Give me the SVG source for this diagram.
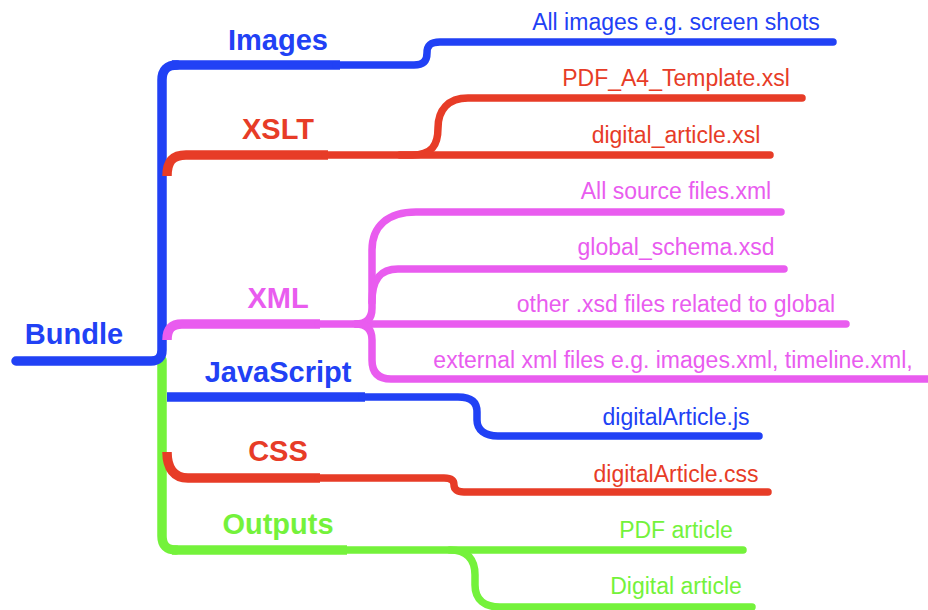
<svg xmlns="http://www.w3.org/2000/svg" width="928" height="610" viewBox="0 0 928 610">
<style>
  .c { fill: none; stroke-linecap: round; stroke-linejoin: round; }
  .thick { stroke-width: 9.5; stroke-linecap: butt; }
  .thin { stroke-width: 7.5; }
  .blue { stroke: #2141F5; }
  .red { stroke: #E73C27; }
  .pink { stroke: #E95CEF; }
  .green { stroke: #74F23B; }
  .lbl { font-family: "Liberation Sans", Arial, Helvetica, sans-serif; font-weight: bold; font-size: 29px; text-anchor: middle; }
  .leaf { font-family: "Liberation Sans", Arial, Helvetica, sans-serif; font-size: 23px; text-anchor: middle; }
  .tb { fill: #2141F5; }
  .tr { fill: #E73C27; }
  .tp { fill: #E95CEF; }
  .tg { fill: #74F23B; }
</style>
<rect width="928" height="610" fill="#ffffff"/>
<g id="connectors">
  <!-- green trunk -->
  <path class="c green" stroke-width="9.5" d="M 162 360 V 536 Q 162 550 176 550"/>
  <!-- Bundle + blue trunk -->
  <path class="c blue" stroke-width="9.5" d="M 16 361 H 151 Q 162 361 162 350 V 80 Q 162 65 177 65"/>
  <!-- Images -->
  <path class="c blue thick" d="M 172 65 H 340"/>
  <path class="c blue thin" d="M 336 65 H 414 C 424 65 427 60 427 53 C 427 46 430 42 440 42 H 833"/>
  <!-- XSLT -->
  <path class="c red thick" d="M 167 176 C 167 162 172 155 186 155 H 328"/>
  <path class="c red thin" d="M 325 155 H 412 C 432 155 438 145 438 128 C 438 110 448 98 468 98 H 802"/>
  <path class="c red thin" d="M 400 155 H 770"/>
  <!-- XML -->
  <path class="c pink thick" d="M 167 340 C 167 330 171 324 182 324 H 320"/>
  <path class="c pink thin" d="M 318 324 H 846"/>
  <path class="c pink thin" d="M 356 324 Q 372 324 372 308 V 250 C 372 226 388 212 416 212 H 781"/>
  <path class="c pink thin" d="M 372 302 C 372 280 380 269 398 269 H 784"/>
  <path class="c pink thin" d="M 356 324 Q 372 324 372 340 V 360 Q 372 379 391 379 H 940"/>
  <!-- JavaScript -->
  <path class="c blue thick" d="M 167 397 H 365"/>
  <path class="c blue thin" d="M 362 397 H 458 C 472 397 477 403 477 412 V 420 C 477 430 485 436 498 436 H 759"/>
  <!-- CSS -->
  <path class="c red thick" d="M 167 452 C 167 468 174 478 188 478 H 320"/>
  <path class="c red thin" d="M 318 478 H 444 C 452 478 454 481 454 485 C 454 489 457 492 464 492 H 768"/>
  <!-- Outputs -->
  <path class="c green thick" d="M 172 550 H 347"/>
  <path class="c green thin" d="M 344 550 H 743"/>
  <path class="c green thin" d="M 450 550 C 468 550 475 560 475 575 V 585 C 475 600 485 607 500 607 H 752"/>
</g>
<g id="node-bundle"><text class="lbl tb" x="74" y="344">Bundle</text></g>
<g id="node-images"><text class="lbl tb" x="278" y="50">Images</text></g>
<g id="node-xslt"><text class="lbl tr" x="278" y="139">XSLT</text></g>
<g id="node-xml"><text class="lbl tp" x="278" y="308">XML</text></g>
<g id="node-javascript"><text class="lbl tb" x="278" y="382">JavaScript</text></g>
<g id="node-css"><text class="lbl tr" x="278" y="461">CSS</text></g>
<g id="node-outputs"><text class="lbl tg" x="278" y="534">Outputs</text></g>
<g id="leaf-all-images"><text class="leaf tb" x="676" y="30">All images e.g. screen shots</text></g>
<g id="leaf-pdf-template"><text class="leaf tr" x="676" y="86">PDF_A4_Template.xsl</text></g>
<g id="leaf-digital-article-xsl"><text class="leaf tr" x="676" y="143">digital_article.xsl</text></g>
<g id="leaf-all-source"><text class="leaf tp" x="676" y="199">All source files.xml</text></g>
<g id="leaf-global-schema"><text class="leaf tp" x="676" y="255">global_schema.xsd</text></g>
<g id="leaf-other-xsd"><text class="leaf tp" x="676" y="312">other .xsd files related to global</text></g>
<g id="leaf-external-xml"><text class="leaf tp" x="673" y="368">external xml files e.g. images.xml, timeline.xml,</text></g>
<g id="leaf-js"><text class="leaf tb" x="676" y="425">digitalArticle.js</text></g>
<g id="leaf-css"><text class="leaf tr" x="676" y="482">digitalArticle.css</text></g>
<g id="leaf-pdf-article"><text class="leaf tg" x="676" y="538">PDF article</text></g>
<g id="leaf-digital-article"><text class="leaf tg" x="676" y="594">Digital article</text></g>
</svg>
